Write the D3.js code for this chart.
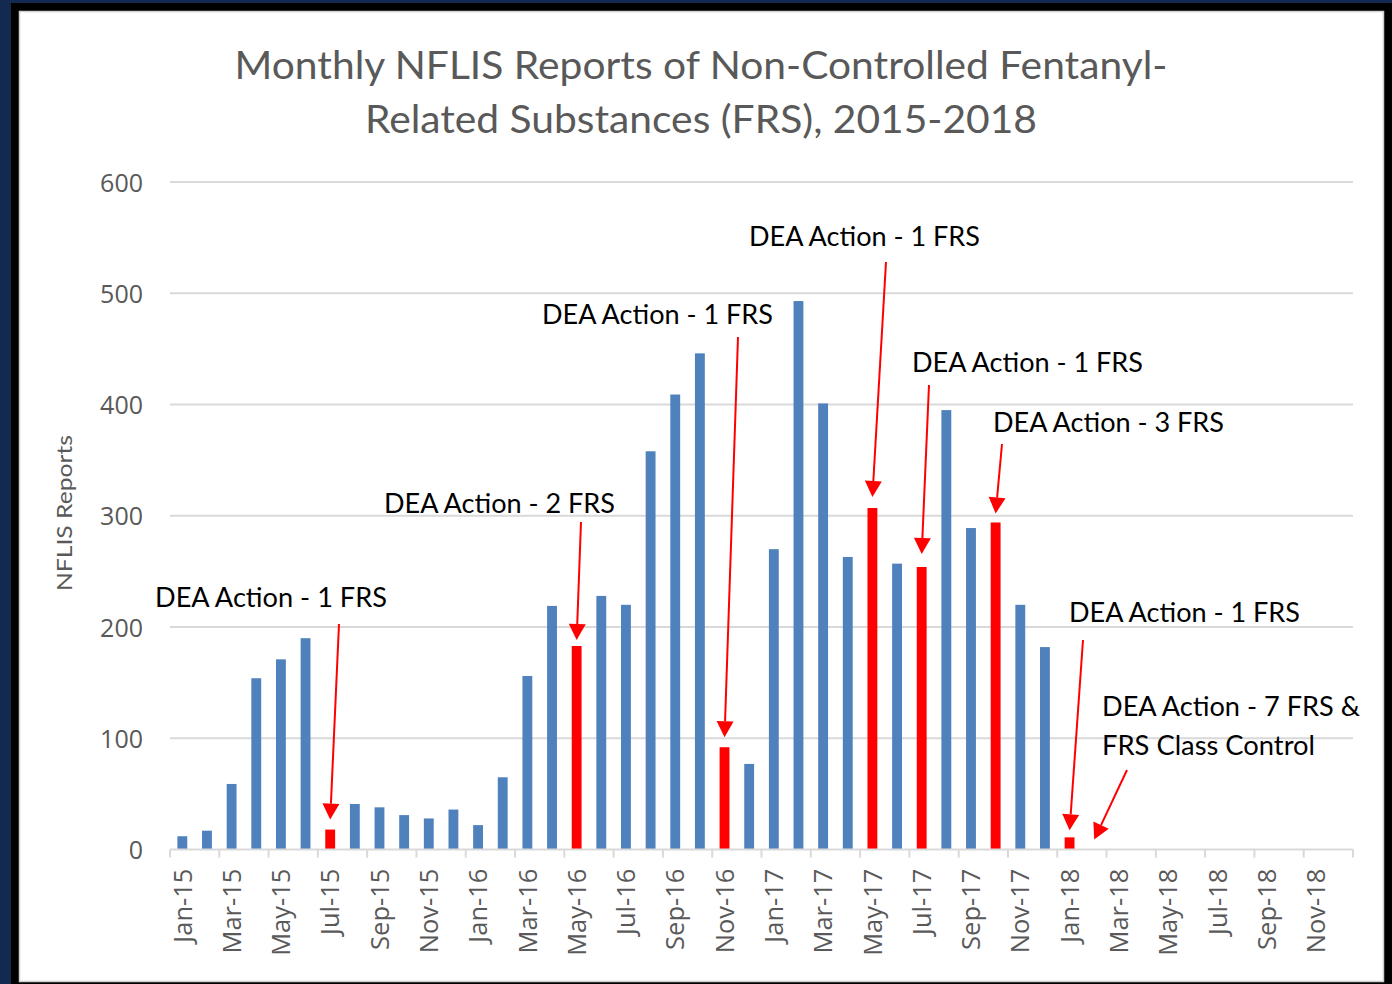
<!DOCTYPE html>
<html>
<head>
<meta charset="utf-8">
<script src="https://cdn.jsdelivr.net/npm/d3@7"></script>
<style>
  html, body { margin: 0; padding: 0; background: #14294f; }
  svg { display: block; }
</style>
</head>
<body>
<svg id="chart" width="1392" height="984"></svg>
<script>
// ---------------- DATA ----------------
const months = [
  "Jan-15","Feb-15","Mar-15","Apr-15","May-15","Jun-15","Jul-15","Aug-15","Sep-15","Oct-15","Nov-15","Dec-15",
  "Jan-16","Feb-16","Mar-16","Apr-16","May-16","Jun-16","Jul-16","Aug-16","Sep-16","Oct-16","Nov-16","Dec-16",
  "Jan-17","Feb-17","Mar-17","Apr-17","May-17","Jun-17","Jul-17","Aug-17","Sep-17","Oct-17","Nov-17","Dec-17",
  "Jan-18","Feb-18","Mar-18","Apr-18","May-18","Jun-18","Jul-18","Aug-18","Sep-18","Oct-18","Nov-18","Dec-18"
];
// Monthly NFLIS reports (Jan-15 .. Jan-18)
const reports = [
  12, 17, 59, 154, 171, 190, 18, 41, 38, 31, 28, 36,
  22, 65, 156, 219, 183, 228, 220, 358, 409, 446, 92, 77,
  270, 493, 401, 263, 307, 257, 254, 395, 289, 294, 220, 182,
  11
];
const actionMonths = ["Jul-15","May-16","Nov-16","May-17","Jul-17","Oct-17","Jan-18"];
const yTicks = [0, 100, 200, 300, 400, 500, 600];
const xTickLabels = months.filter((m, i) => i % 2 === 0);
const titleLines = ["Monthly NFLIS Reports of Non-Controlled Fentanyl-", "Related Substances (FRS), 2015-2018"];
const yAxisTitle = "NFLIS Reports";
const annotationTexts = [
  ["DEA Action - 1 FRS"],
  ["DEA Action - 2 FRS"],
  ["DEA Action - 1 FRS"],
  ["DEA Action - 1 FRS"],
  ["DEA Action - 1 FRS"],
  ["DEA Action - 3 FRS"],
  ["DEA Action - 1 FRS"],
  ["DEA Action - 7 FRS &", "FRS Class Control"]
];
const annotationTargets = ["Jul-15","May-16","Nov-16","May-17","Jul-17","Oct-17","Jan-18","Feb-18"];

// ---------------- LAYOUT ----------------
const W = 1392, H = 984;
const plot = { left: 170, right: 1353, top: 182, bottom: 849.6 };
// text placement (left x, first baseline, widths) and arrow start points for annotations
const annoLayout = [
  { x: 155,  y: 607, w: [232], sx: 339,  sy: 624, gap: 10 },
  { x: 384,  y: 513, w: [231], sx: 581,  sy: 522, gap: 6 },
  { x: 542,  y: 324, w: [231], sx: 738,  sy: 337, gap: 10 },
  { x: 749,  y: 246, w: [231], sx: 886,  sy: 262, gap: 11 },
  { x: 912,  y: 372, w: [231], sx: 929,  sy: 385, gap: 13 },
  { x: 993,  y: 432, w: [231], sx: 1002, sy: 444, gap: 9 },
  { x: 1069, y: 622, w: [231], sx: 1083, sy: 640, gap: 7 },
  { x: 1102, y: 716, w: [258, 213], sx: 1127, sy: 770, gap: 10, lh: 39 }
];

const svg = d3.select("#chart");

// frame
svg.append("rect").attr("x", 0).attr("y", 0).attr("width", W).attr("height", H).attr("fill", "#14294f");
svg.append("rect").attr("x", 11).attr("y", 3).attr("width", W - 11).attr("height", H - 3).attr("fill", "#000");
svg.append("rect").attr("x", 19.5).attr("y", 11.5).attr("width", 1364).attr("height", 970)
  .attr("fill", "#fff").attr("stroke", "#cfcfcf").attr("stroke-width", 1.5);

// scales
const x = d3.scaleBand().domain(months).range([plot.left, plot.right]).paddingInner(0.6).paddingOuter(0.3);
const y = d3.scaleLinear().domain([0, 600]).range([plot.bottom, plot.top]);
const step = x.step();

// gridlines
svg.append("g").selectAll("line").data(yTicks.filter(d => d > 0)).join("line")
  .attr("x1", plot.left).attr("x2", plot.right)
  .attr("y1", d => y(d)).attr("y2", d => y(d))
  .attr("stroke", "#d9d9d9").attr("stroke-width", 2);

// y axis tick labels
const yAxis = d3.axisLeft(y).tickValues(yTicks).tickSize(0).tickPadding(0);
const yg = svg.append("g").attr("transform", `translate(${plot.left - 27},0)`).call(yAxis);
yg.select(".domain").remove();
yg.selectAll("text").attr("font-family", "'Open Sans', sans-serif").attr("font-size", 25)
  .attr("fill", "#595959").attr("dy", "0.36em");

// bars
svg.append("g").selectAll("rect").data(reports).join("rect")
  .attr("x", (d, i) => x(months[i]))
  .attr("width", x.bandwidth())
  .attr("y", d => y(d))
  .attr("height", d => y(0) - y(d))
  .attr("fill", (d, i) => actionMonths.includes(months[i]) ? "#ff0000" : "#4f81bd");

// x axis baseline and ticks (tick marks at every second month boundary)
svg.append("line").attr("x1", plot.left).attr("x2", plot.right)
  .attr("y1", y(0)).attr("y2", y(0)).attr("stroke", "#d9d9d9").attr("stroke-width", 2);
svg.append("g").selectAll("line").data(xTickLabels.concat(["__end"])).join("line")
  .attr("x1", (d, i) => plot.left + i * 2 * step)
  .attr("x2", (d, i) => plot.left + i * 2 * step)
  .attr("y1", y(0)).attr("y2", y(0) + 8)
  .attr("stroke", "#d9d9d9").attr("stroke-width", 2);

// x labels
svg.append("g").selectAll("text").data(xTickLabels).join("text")
  .attr("transform", d => `translate(${x(d) + x.bandwidth() / 2},${y(0) + 19}) rotate(-90)`)
  .attr("text-anchor", "end").attr("dy", "0.36em")
  .attr("font-family", "'Open Sans', sans-serif").attr("font-size", 25.5)
  .attr("fill", "#595959").text(d => d);

// y axis title
svg.append("text")
  .attr("transform", `translate(${72},${513}) rotate(-90)`)
  .attr("text-anchor", "middle")
  .attr("font-family", "Lato, sans-serif").attr("font-size", 21)
  .attr("fill", "#595959").text(yAxisTitle)
  .attr("textLength", 156).attr("lengthAdjust", "spacingAndGlyphs");

// title
const titleWidths = [933, 672];
titleLines.forEach((t, i) => {
  svg.append("text")
    .attr("x", 701).attr("y", 79 + i * 54)
    .attr("text-anchor", "middle")
    .attr("font-family", "Lato, sans-serif").attr("font-size", 39)
    .attr("fill", "#595959").text(t)
    .attr("textLength", titleWidths[i]).attr("lengthAdjust", "spacingAndGlyphs");
});

// annotations
const ag = svg.append("g");
annotationTexts.forEach((lines, k) => {
  const L = annoLayout[k];
  lines.forEach((t, j) => {
    ag.append("text")
      .attr("x", L.x).attr("y", L.y + j * (L.lh || 0))
      .attr("font-family", "Lato, sans-serif").attr("font-size", 26)
      .attr("fill", "#000").text(t)
      .attr("textLength", L.w[j]).attr("lengthAdjust", "spacingAndGlyphs");
  });
  const m = annotationTargets[k];
  const idx = months.indexOf(m);
  const val = idx < reports.length ? reports[idx] : 0;
  const tx = x(m) + x.bandwidth() / 2;
  const ty = y(val) - L.gap;
  const dx = tx - L.sx, dy = ty - L.sy;
  const len = Math.hypot(dx, dy);
  const ux = dx / len, uy = dy / len;
  const headLen = 16, headHalf = 8.5;
  const bx = tx - ux * headLen, by = ty - uy * headLen;
  ag.append("line").attr("x1", L.sx).attr("y1", L.sy).attr("x2", bx).attr("y2", by)
    .attr("stroke", "#ff0000").attr("stroke-width", 2);
  ag.append("path")
    .attr("d", `M${tx},${ty} L${bx - uy * headHalf},${by + ux * headHalf} L${bx + uy * headHalf},${by - ux * headHalf} Z`)
    .attr("fill", "#ff0000");
});
</script>
</body>
</html>
